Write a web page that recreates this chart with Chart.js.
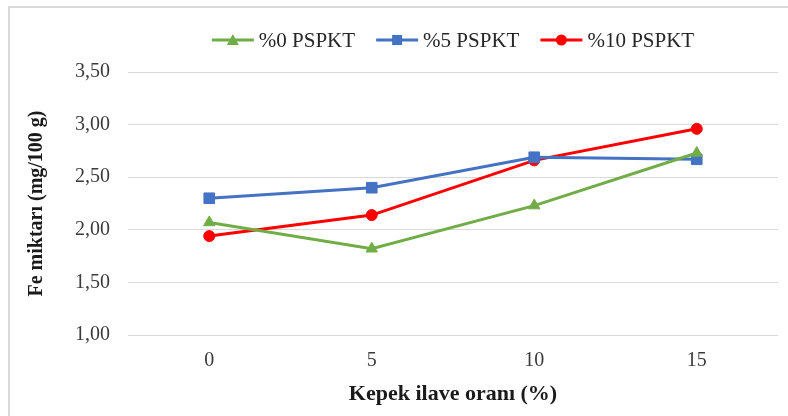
<!DOCTYPE html>
<html>
<head>
<meta charset="utf-8">
<script src="https://cdn.jsdelivr.net/npm/chart.js@4/dist/chart.umd.min.js"></script>
<style>
  html, body { margin: 0; padding: 0; background: #fff; }
  #frame {
    position: absolute; left: 8px; top: 6px; width: 780px; height: 410px;
    border-top: 2px solid #d9d9d9; border-left: 2px solid #d9d9d9;
  }
  #wrap { position: absolute; left: 0; top: 0; width: 788px; height: 416px; }
</style>
</head>
<body>
<div id="frame"></div>
<div id="wrap"><canvas id="chartFe"></canvas></div>
<script>
// Kepek ilave oranı (%) ve Fe miktarı (mg/100 g)
const oranlar = ['0', '5', '10', '15'];
const pspkt0 = [2.07, 1.82, 2.23, 2.73];
const pspkt5 = [2.30, 2.40, 2.69, 2.67];
const pspkt10 = [1.94, 2.14, 2.66, 2.96];
const yMin = 1.00, yMax = 3.50, yStep = 0.50;

const SERIF = '"Liberation Serif", "Times New Roman", serif';

// Lejant: çizgi + işaret örneği, ardından metin
const lineLegend = {
    id: 'lineLegend',
    afterDraw(chart) {
        const ctx = chart.ctx;
        const y = 40, sample = 42, gap = 5, spacing = 21;
        ctx.save();
        ctx.font = '21px ' + SERIF;
        const items = chart.data.datasets.map(ds => ({ ds, w: ctx.measureText(ds.label).width }));
        const total = items.reduce((s, it) => s + sample + gap + it.w, 0) + spacing * (items.length - 1);
        let x = (chart.chartArea.left + chart.chartArea.right) / 2 - total / 2;

        items.forEach(({ ds, w }) => {
            ctx.strokeStyle = ds.borderColor;
            ctx.lineWidth = 3;
            ctx.beginPath();
            ctx.moveTo(x, y);
            ctx.lineTo(x + sample, y);
            ctx.stroke();

            const cx = x + sample / 2;
            ctx.fillStyle = ds.pointBackgroundColor;
            ctx.beginPath();
            if (ds.pointStyle === 'triangle') {
                ctx.moveTo(cx, y - 6);
                ctx.lineTo(cx + 6, y + 5);
                ctx.lineTo(cx - 6, y + 5);
                ctx.closePath();
            } else if (ds.pointStyle === 'rect') {
                ctx.rect(cx - 5, y - 5, 10, 10);
            } else {
                ctx.arc(cx, y, 5.5, 0, Math.PI * 2);
            }
            ctx.fill();

            ctx.fillStyle = '#262626';
            ctx.textAlign = 'left';
            ctx.textBaseline = 'middle';
            ctx.fillText(ds.label, x + sample + gap, y + 1);
            x += sample + gap + w + spacing;
        });
        ctx.restore();
    }
};

function seri(label, data, color, style, radius) {
    return {
        label, data,
        borderColor: color,
        backgroundColor: color,
        pointBackgroundColor: color,
        pointBorderColor: color,
        borderWidth: 3,
        pointStyle: style,
        pointRadius: radius,
        pointHoverRadius: radius,
        pointBorderWidth: 1,
        tension: 0,
        fill: false
    };
}

new Chart(document.getElementById('chartFe'), {
    type: 'line',
    data: {
        labels: oranlar,
        datasets: [
            seri('%0 PSPKT', pspkt0, '#70ad47', 'triangle', 6.5),
            seri('%5 PSPKT', pspkt5, '#4472c4', 'rect', 7.5),
            seri('%10 PSPKT', pspkt10, '#ff0000', 'circle', 5.5)
        ]
    },
    options: {
        responsive: true,
        maintainAspectRatio: false,
        animation: false,
        layout: { padding: { left: 10, right: 10, top: 72, bottom: 0 } },
        plugins: {
            legend: { display: false },
            tooltip: { enabled: false }
        },
        scales: {
            x: {
                offset: true,
                grid: { display: false, drawTicks: false },
                border: { display: false },
                ticks: { color: '#3a3a3a', padding: 14, font: { family: SERIF, size: 20 } },
                title: {
                    display: true,
                    text: 'Kepek ilave oranı (%)',
                    color: '#1a1a1a',
                    font: { family: SERIF, size: 22, weight: 'bold' },
                    padding: { top: 0, bottom: 8 }
                },
                afterFit: (scale) => { scale.height = 416 - 335; }
            },
            y: {
                min: yMin,
                max: yMax,
                grid: { color: '#d9d9d9', lineWidth: 1, drawTicks: false },
                border: { display: false },
                ticks: {
                    stepSize: yStep,
                    color: '#3a3a3a',
                    padding: 18,
                    font: { family: SERIF, size: 20 },
                    callback: (v) => Number(v).toFixed(2).replace('.', ',')
                },
                title: {
                    display: true,
                    text: 'Fe miktarı (mg/100 g)',
                    color: '#1a1a1a',
                    font: { family: SERIF, size: 20, weight: 'bold' },
                    padding: { top: 15, bottom: 0 }
                },
                afterFit: (scale) => { scale.width = 128 - 10; }
            }
        }
    },
    plugins: [lineLegend]
});
</script>
</body>
</html>
